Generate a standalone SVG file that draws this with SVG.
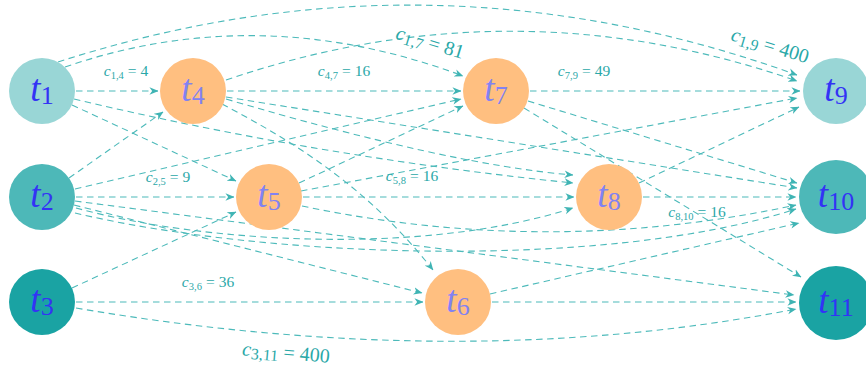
<svg xmlns="http://www.w3.org/2000/svg" width="866" height="367" viewBox="0 0 866 367">
<defs>
<marker id="ah" viewBox="0 0 10 10" refX="9.5" refY="5" markerWidth="9" markerHeight="9" orient="auto" markerUnits="userSpaceOnUse">
<path d="M0,0.8 L10,5 L0,9.2 L3,5 z" fill="#3fb4b4"/>
</marker>
<style>
.e{fill:none;stroke:#4dbaba;stroke-width:1.1;stroke-dasharray:6.5 4.5;marker-end:url(#ah)}
.lb{font-family:"Liberation Serif",serif;fill:#2aa8a8;text-anchor:middle}
.s{font-size:15.5px}
.b{font-size:20px}
.nt{font-family:"Liberation Serif",serif;font-size:37px;text-anchor:middle}
.tl{fill:#3333f5}
.to{fill:#8282f2}
.c1{fill:#99d6d6}
.c2{fill:#4db8b8}
.c3{fill:#1aa3a3}
.co{fill:#ffbf80}
</style>
</defs>
<g id="edges">
<path class="e" d="M76,91 H158"/>
<path class="e" d="M65,67 Q260,0 463,76"/>
<path class="e" d="M58,62 Q429,-58 797,75"/>
<path class="e" d="M72,105 L236,181"/>
<path class="e" d="M74,99 Q318,157 573,183"/>
<path class="e" d="M69,178 L163,112"/>
<path class="e" d="M76,197 H234"/>
<path class="e" d="M75,189 L461,99"/>
<path class="e" d="M74,205 L422,293"/>
<path class="e" d="M76,208 C200,242 420,257 573,208"/>
<path class="e" d="M75,213 C260,257 600,272 796,209"/>
<path class="e" d="M75,201 L794,295"/>
<path class="e" d="M72,288 L236,212"/>
<path class="e" d="M76,302 H423"/>
<path class="e" d="M76,308 Q463,374 796,309"/>
<path class="e" d="M227,91 H461"/>
<path class="e" d="M226,80 Q513,-18 797,81"/>
<path class="e" d="M226,97 L797,188"/>
<path class="e" d="M226,99 Q450,165 573,175"/>
<path class="e" d="M222,104 C300,145 370,190 433,270"/>
<path class="e" d="M299,183 L463,106"/>
<path class="e" d="M303,197 H574"/>
<path class="e" d="M301,191 L797,98"/>
<path class="e" d="M302,206 Q550,258 796,205"/>
<path class="e" d="M490,294 L799,223"/>
<path class="e" d="M492,302 H796"/>
<path class="e" d="M530,91 H800"/>
<path class="e" d="M528,101 L797,183"/>
<path class="e" d="M524,108 L801,277"/>
<path class="e" d="M639,183 L799,107"/>
<path class="e" d="M643,197 H796"/>
</g>
<g id="labels">
<text class="lb s" x="126" y="76"><tspan font-style="italic">c</tspan><tspan font-size="10.5" dy="3">1,4</tspan><tspan dy="-3" dx="4">=</tspan><tspan dx="4">4</tspan></text>
<text class="lb s" x="344" y="76"><tspan font-style="italic">c</tspan><tspan font-size="10.5" dy="3">4,7</tspan><tspan dy="-3" dx="4">=</tspan><tspan dx="4">16</tspan></text>
<text class="lb s" x="584" y="76"><tspan font-style="italic">c</tspan><tspan font-size="10.5" dy="3">7,9</tspan><tspan dy="-3" dx="4">=</tspan><tspan dx="4">49</tspan></text>
<text class="lb s" x="168" y="182"><tspan font-style="italic">c</tspan><tspan font-size="10.5" dy="3">2,5</tspan><tspan dy="-3" dx="4">=</tspan><tspan dx="4">9</tspan></text>
<text class="lb s" x="412" y="181"><tspan font-style="italic">c</tspan><tspan font-size="10.5" dy="3">5,8</tspan><tspan dy="-3" dx="4">=</tspan><tspan dx="4">16</tspan></text>
<text class="lb s" x="697" y="217"><tspan font-style="italic">c</tspan><tspan font-size="10.5" dy="3">8,10</tspan><tspan dy="-3" dx="4">=</tspan><tspan dx="4">16</tspan></text>
<text class="lb s" x="208" y="287"><tspan font-style="italic">c</tspan><tspan font-size="10.5" dy="3">3,6</tspan><tspan dy="-3" dx="4">=</tspan><tspan dx="4">36</tspan></text>
<text class="lb b" x="430" y="49" transform="rotate(17 430 43)"><tspan font-style="italic">c</tspan><tspan font-size="16" dy="3">1,7</tspan><tspan dy="-3" dx="5">=</tspan><tspan dx="5">81</tspan></text>
<text class="lb b" x="770" y="52" transform="rotate(17 770 46)"><tspan font-style="italic">c</tspan><tspan font-size="16" dy="3">1,9</tspan><tspan dy="-3" dx="5">=</tspan><tspan dx="5">400</tspan></text>
<text class="lb b" x="286" y="359" transform="rotate(5 286 353)"><tspan font-style="italic">c</tspan><tspan font-size="16" dy="3">3,11</tspan><tspan dy="-3" dx="5">=</tspan><tspan dx="5">400</tspan></text>
</g>
<g id="t1"><circle class="c1" cx="42" cy="91" r="33"/><text class="nt tl" x="42" y="101"><tspan font-style="italic">t</tspan><tspan font-size="26" dy="3">1</tspan></text></g>
<g id="t2"><circle class="c2" cx="42" cy="197" r="33"/><text class="nt tl" x="42" y="207"><tspan font-style="italic">t</tspan><tspan font-size="26" dy="3">2</tspan></text></g>
<g id="t3"><circle class="c3" cx="42" cy="302" r="33"/><text class="nt tl" x="42" y="312"><tspan font-style="italic">t</tspan><tspan font-size="26" dy="3">3</tspan></text></g>
<g id="t4"><circle class="co" cx="193" cy="91" r="33"/><text class="nt to" x="193" y="101"><tspan font-style="italic">t</tspan><tspan font-size="26" dy="3">4</tspan></text></g>
<g id="t5"><circle class="co" cx="269" cy="197" r="33"/><text class="nt to" x="269" y="207"><tspan font-style="italic">t</tspan><tspan font-size="26" dy="3">5</tspan></text></g>
<g id="t6"><circle class="co" cx="458" cy="302" r="33"/><text class="nt to" x="458" y="312"><tspan font-style="italic">t</tspan><tspan font-size="26" dy="3">6</tspan></text></g>
<g id="t7"><circle class="co" cx="496" cy="91" r="33"/><text class="nt to" x="496" y="101"><tspan font-style="italic">t</tspan><tspan font-size="26" dy="3">7</tspan></text></g>
<g id="t8"><circle class="co" cx="609" cy="197" r="33"/><text class="nt to" x="609" y="207"><tspan font-style="italic">t</tspan><tspan font-size="26" dy="3">8</tspan></text></g>
<g id="t9"><circle class="c1" cx="836" cy="91" r="33"/><text class="nt tl" x="836" y="101"><tspan font-style="italic">t</tspan><tspan font-size="26" dy="3">9</tspan></text></g>
<g id="t10"><circle class="c2" cx="836" cy="197" r="37"/><text class="nt tl" x="836" y="207"><tspan font-style="italic">t</tspan><tspan font-size="26" dy="3">10</tspan></text></g>
<g id="t11"><circle class="c3" cx="836" cy="303" r="37"/><text class="nt tl" x="836" y="313"><tspan font-style="italic">t</tspan><tspan font-size="26" dy="3">11</tspan></text></g>
</svg>
